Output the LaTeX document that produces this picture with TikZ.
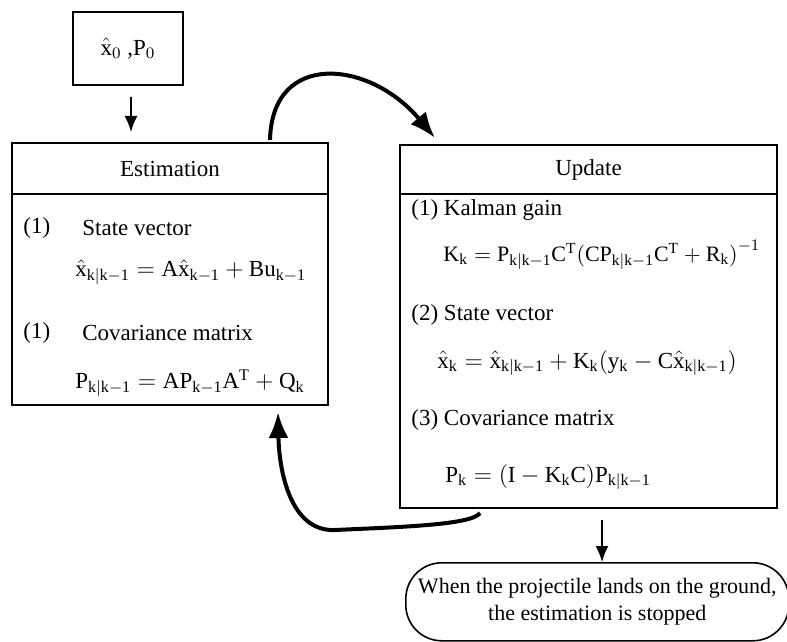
\documentclass[tikz,border=0pt]{standalone}
\usepackage{fontspec}
\setmainfont{Liberation Serif}
\usetikzlibrary{arrows.meta,calc}
\newcommand{\xhat}{\hat{\mathrm{x}}}
\begin{document}
\begin{tikzpicture}[x=0.5pt,y=-0.5pt,
  every node/.style={font=\fontsize{11.5}{14}\selectfont},
  boxframe/.style={draw, line width=1pt, inner sep=0pt, outer sep=0pt, anchor=north west},
  txt/.style={anchor=west, inner sep=0pt},
  thinarrow/.style={line width=0.8pt, -{Latex[length=8pt,width=6.5pt]}},
  thickarrow/.style={line width=2pt, -{Latex[length=13pt,width=10pt]}}]
\useasboundingbox (0,0) rectangle (787,642);
% initial box
\node[boxframe, minimum width=55pt, minimum height=36.5pt] (init) at (73,12) {$\xhat_{0}$ ,$\mathrm{P}_{0}$};
% estimation
\node[boxframe, minimum width=158pt, minimum height=25.5pt] (esthead) at (12,143) {Estimation};
\node[boxframe, minimum width=158pt, minimum height=105.5pt] (estbody) at (12,194) {};
\node[txt] (e1n) at (23,228) {(1)};
\node[txt] (e1t) at (82,228) {State vector};
\node[txt] (e1f) at (75,272) {$\xhat_{\mathrm{k|k-1}} = \mathrm{A}\xhat_{\mathrm{k-1}} + \mathrm{Bu}_{\mathrm{k-1}}$};
\node[txt] (e2n) at (23,333) {(1)};
\node[txt] (e2t) at (82,333) {Covariance matrix};
\node[txt] (e2f) at (75,383) {$\mathrm{P}_{\mathrm{k|k-1}} = \mathrm{AP}_{\mathrm{k-1}}\mathrm{A}^{\mathrm{T}} + \mathrm{Q}_{\mathrm{k}}$};
% update
\node[boxframe, minimum width=188.5pt, minimum height=24.5pt] (updhead) at (400,145) {Update};
\node[boxframe, minimum width=188.5pt, minimum height=157pt] (updbody) at (400,194) {};
\node[txt] (u1t) at (411,210) {(1) Kalman gain};
\node[txt, font=\fontsize{11}{13}\selectfont] (u1f) at (443,255) {$\mathrm{K_k} = \mathrm{P_{k|k-1}C^T}\bigl(\mathrm{CP_{k|k-1}C^T} + \mathrm{R_k}\bigr)^{-1}$};
\node[txt] (u2t) at (411,315) {(2) State vector};
\node[txt] (u2f) at (437,363) {$\xhat_{\mathrm{k}} = \xhat_{\mathrm{k|k-1}} + \mathrm{K_k}\bigl(\mathrm{y_k} - \mathrm{C}\xhat_{\mathrm{k|k-1}}\bigr)$};
\node[txt] (u3t) at (411,420) {(3) Covariance matrix};
\node[txt] (u3f) at (445,477) {$\mathrm{P_k} = (\mathrm{I} - \mathrm{K_kC})\mathrm{P_{k|k-1}}$};
% final
\node[draw, line width=0.8pt, rounded corners=18pt, anchor=north west, minimum width=191.5pt, minimum height=39pt, inner sep=0pt, align=center, font=\fontsize{11}{13.5}\selectfont] (stop) at (405,562) {When the projectile lands on the ground,\\the estimation is stopped};
% connectors
\coordinate (a0s) at ($(init.south west)+(58,12)$);
\coordinate (a0e) at ($(esthead.north west)+(119,-11)$);
\draw[thinarrow] (a0s) -- (a0e);
\coordinate (a1s) at ($(esthead.north west)+(258,-3)$);
\coordinate (a1e) at ($(updhead.north west)+(35,-7)$);
\draw[thickarrow] (a1s) .. controls ($(a1s)+(2,-90)$) and ($(a1e)+(-65,-78)$) .. (a1e);
\coordinate (a2s) at ($(updbody.south west)+(80,5)$);
\coordinate (a2m) at (335,530);
\coordinate (a2e) at ($(estbody.south west)+(266,7)$);
\draw[thickarrow] (a2s) .. controls ($(a2s)+(-8,12)$) and ($(a2m)+(65,-3)$) .. (a2m) .. controls ($(a2m)+(-45,2)$) and ($(a2e)+(1,58)$) .. (a2e);
\coordinate (a3s) at ($(updbody.south west)+(202,12)$);
\draw[thinarrow] (a3s) -- (stop.north -| a3s);
\end{tikzpicture}
\end{document}
